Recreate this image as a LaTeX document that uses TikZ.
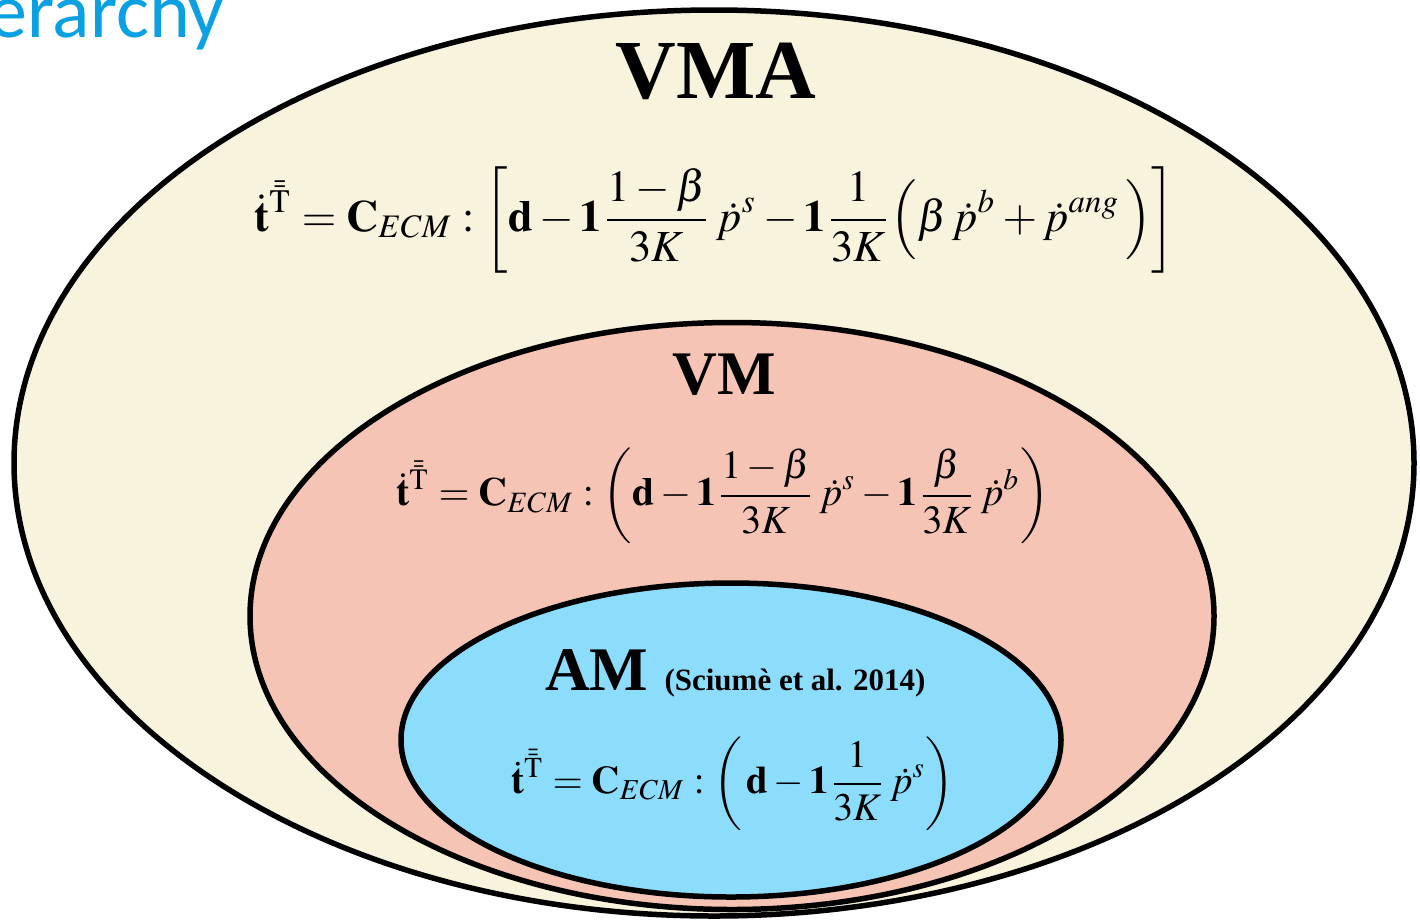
\documentclass[tikz,border=0pt]{standalone}
\usepackage{mathptmx}
\usepackage[no-math]{fontspec}
\setmainfont{Liberation Serif}
\newfontfamily\calib{Carlito}
\usepackage{graphicx}
\usetikzlibrary{shapes.geometric}
\definecolor{cream}{HTML}{F8F3DC}
\definecolor{salmon}{HTML}{F6C4B4}
\definecolor{skyb}{HTML}{8CDCFC}
\definecolor{titleblue}{HTML}{0AA0E2}
\newcommand{\tT}{\dot{\mathbf{t}}^{\bar{\bar{\mathrm{T}}}}}
\tikzset{
  region/.style={ellipse, draw=black, line width=5.5pt, inner sep=0pt},
  label/.style={inner sep=0pt, font=\bfseries},
  formula/.style={inner sep=0pt}
}
\begin{document}
\begin{tikzpicture}[x=1pt,y=-1pt]
\useasboundingbox (0,0) rectangle (1420,919);
\clip (0,0) rectangle (1420,919);
\node[anchor=base east, inner sep=0pt, text=titleblue, font=\calib\fontsize{78}{78}\selectfont] (title) at (224,37) {erarchy};
\node[region, fill=cream, minimum width=1400pt, minimum height=906pt] (vma) at (714,463) {};
\node[region, fill=salmon, minimum width=964pt, minimum height=587pt] (vm) at (732,616) {};
\node[region, fill=skyb, minimum width=660pt, minimum height=314pt] (am) at (731,740) {};
\node[label, font=\bfseries\fontsize{84}{84}\selectfont] (vmalab) at (716,71) {VMA};
\node[label, font=\bfseries\fontsize{62}{62}\selectfont] (vmlab) at (724,375) {VM};
\node[label, anchor=base west] (amlab) at (545,690) {{\fontsize{62}{62}\selectfont AM}\hspace{16pt}{\fontsize{31}{31}\selectfont (Sciumè et al. 2014)}};
\node[formula] (f1) at (715,220) {\resizebox{920pt}{!}{$\displaystyle \tT=\mathbf{C}_{ECM}:\left[\mathbf{d}-\mathbf{1}\frac{1-\beta}{3K}\,\dot{p}^{s}-\mathbf{1}\frac{1}{3K}\Bigl(\beta\,\dot{p}^{b}+\dot{p}^{ang}\,\Bigr)\right]$}};
\node[formula] (f2) at (723,496) {\resizebox{653pt}{!}{$\displaystyle \tT=\mathbf{C}_{ECM}:\left(\mathbf{d}-\mathbf{1}\frac{1-\beta}{3K}\,\dot{p}^{s}-\mathbf{1}\frac{\beta}{3K}\,\dot{p}^{b}\right)$}};
\node[formula] (f3) at (733,784) {\resizebox{443pt}{!}{$\displaystyle \tT=\mathbf{C}_{ECM}:\left(\,\mathbf{d}-\mathbf{1}\frac{1}{3K}\,\dot{p}^{s}\right)$}};
\end{tikzpicture}
\end{document}
